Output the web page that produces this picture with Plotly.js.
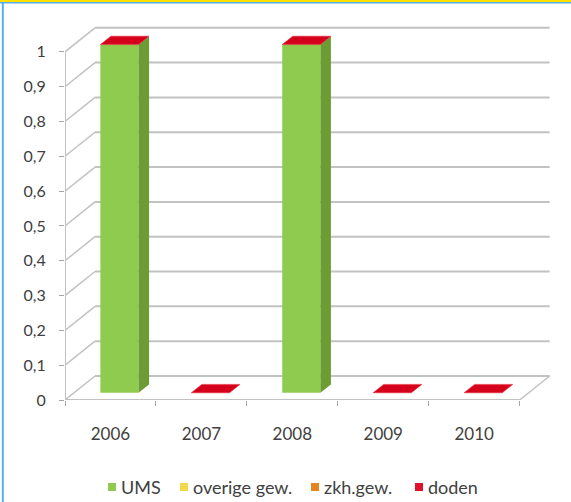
<!DOCTYPE html>
<html>
<head>
<meta charset="utf-8">
<script src="https://cdn.plot.ly/plotly-3.0.1.min.js"></script>
<style>
  html, body { margin: 0; padding: 0; background: #ffffff; }
  #chart { width: 571px; height: 502px; }
</style>
</head>
<body>
<div id="chart"></div>
<script>
// Jaartallen en waarden per categorie (gestapelde kolommen)
const years = ['2006', '2007', '2008', '2009', '2010'];
const ums = [1, 0, 1, 0, 0];
const overigeGew = [0, 0, 0, 0, 0];
const zkhGew = [0, 0, 0, 0, 0];
const doden = [0, 0, 0, 0, 0];
const seriesNames = ['UMS', 'overige gew.', 'zkh.gew.', 'doden'];
const yTicks = [0, 0.1, 0.2, 0.3, 0.4, 0.5, 0.6, 0.7, 0.8, 0.9, 1];

// Kleuren: voorvlak, zijvlak, bovenvlak
const frontColors = ['#8fcb4e', '#f2d64b', '#e3861f', '#e0112a'];
const sideColors = ['#6c9c34', '#c9a820', '#b8680e', '#a80a1c'];
const topColors = ['#a8d870', '#f8e070', '#f0a040', '#d4001c'];

// Schijnbare diepte van het 3D-vlak (in aseenheden)
const DX = 0.33, DY = 0.069;
const F0 = 0.3, F1 = 0.65;   // voor- en achterkant van de kolommen
const W = 0.42;              // kolombreedte

const series = [ums, overigeGew, zkhGew, doden];
const xs = years.map((_, i) => i);

const traces = [];
const cum = xs.map(() => 0);
const bases = [];
series.forEach((vals, s) => {
  const b = cum.slice();
  bases.push(b);
  traces.push({
    type: 'bar',
    name: seriesNames[s],
    x: xs.map(i => i + F0 * DX),
    y: vals,
    base: b.map(v => v + F0 * DY),
    width: W,
    marker: { color: frontColors[s], line: { width: 0 } },
    showlegend: false,
    hoverinfo: 'skip'
  });
  vals.forEach((v, i) => { cum[i] += v; });
});

// Zijvlakken van elk segment
series.forEach((vals, s) => {
  const px = [], py = [];
  vals.forEach((v, i) => {
    if (v <= 0) return;
    const xr = i + F0 * DX + W / 2;
    const b0 = bases[s][i], b1 = b0 + v;
    px.push(xr, xr, xr + (F1 - F0) * DX, xr + (F1 - F0) * DX, xr, null);
    py.push(b0 + F0 * DY, b1 + F0 * DY, b1 + F1 * DY, b0 + F1 * DY, b0 + F0 * DY, null);
  });
  if (px.length) {
    traces.push({
      type: 'scatter', mode: 'lines', x: px, y: py, fill: 'toself',
      fillcolor: sideColors[s], line: { width: 0, color: sideColors[s] },
      showlegend: false, hoverinfo: 'skip'
    });
  }
});

// Bovenvlak van de stapel (bovenste reeks)
(function () {
  const s = series.length - 1;
  const px = [], py = [];
  xs.forEach(i => {
    const H = cum[i];
    const xl = i + F0 * DX - W / 2, xr = i + F0 * DX + W / 2;
    const ox = (F1 - F0) * DX;
    px.push(xl, xr, xr + ox, xl + ox, xl, null);
    py.push(H + F0 * DY, H + F0 * DY, H + F1 * DY, H + F1 * DY, H + F0 * DY, null);
  });
  traces.push({
    type: 'scatter', mode: 'lines', x: px, y: py, fill: 'toself',
    fillcolor: topColors[s], line: { width: 0.6, color: '#e8303c' },
    showlegend: false, hoverinfo: 'skip'
  });
})();

// Achterwand: rasterlijnen en schuine verbindingen
const grid = '#c2c2c2';
const shapes = [];
const xFront0 = -0.5, xFront1 = years.length - 0.5;
yTicks.forEach(v => {
  shapes.push({ type: 'line', layer: 'below', x0: xFront0 + DX, x1: xFront1 + DX, y0: v + DY, y1: v + DY,
    line: { color: grid, width: 2 } });
  shapes.push({ type: 'line', layer: 'below', x0: xFront0, x1: xFront0 + DX, y0: v, y1: v + DY,
    line: { color: grid, width: 1.5 } });
});
// Vloer: voorrand, rechterzijde, linker as
shapes.push({ type: 'line', layer: 'below', x0: xFront0, x1: xFront1, y0: 0, y1: 0, line: { color: grid, width: 2 } });
shapes.push({ type: 'line', layer: 'below', x0: xFront1, x1: xFront1 + DX, y0: 0, y1: DY, line: { color: grid, width: 1.5 } });
shapes.push({ type: 'line', layer: 'below', x0: xFront0, x1: xFront0, y0: 0, y1: yTicks[yTicks.length - 1], line: { color: grid, width: 2 } });

// Omrekening van paginapixels naar papiercoördinaten
const L = 65, R = 15, T = 17, B = 102, PW = 491, PH = 383;
const xp = p => (p - L) / PW;
const yp = p => (T + PH - p) / PH;

// Kader van het blad (links blauw, boven geel met blauw)
shapes.push(
  { type: 'line', xref: 'paper', yref: 'paper', x0: xp(2.8), x1: xp(2.8), y0: yp(502), y1: yp(0),
    line: { color: '#5aaee6', width: 2 } },
  { type: 'line', xref: 'paper', yref: 'paper', x0: xp(0), x1: xp(571), y0: yp(2.8), y1: yp(2.8),
    line: { color: '#5aaee6', width: 1.5 } },
  { type: 'line', xref: 'paper', yref: 'paper', x0: xp(0), x1: xp(571), y0: yp(1), y1: yp(1),
    line: { color: '#ffe000', width: 2 } }
);

// Legenda onder de grafiek
const legendX = [108, 180, 311, 415];
const legendY = 487;
const annotations = [];
seriesNames.forEach((name, s) => {
  shapes.push({ type: 'rect', xref: 'paper', yref: 'paper',
    x0: xp(legendX[s]), x1: xp(legendX[s] + 8), y0: yp(legendY - 4), y1: yp(legendY + 4),
    fillcolor: frontColors[s], line: { width: 0 } });
  annotations.push({ xref: 'paper', yref: 'paper', x: xp(legendX[s] + 11), y: yp(legendY),
    xanchor: 'left', yanchor: 'middle', showarrow: false, text: name,
    font: { size: 18, color: '#404040' } });
});

const layout = {
  width: 571, height: 502,
  paper_bgcolor: '#ffffff', plot_bgcolor: 'rgba(0,0,0,0)',
  margin: { l: L, r: R, t: T, b: B },
  separators: ', ',
  barmode: 'overlay',
  showlegend: false,
  font: { family: 'Lato, "Open Sans", sans-serif', color: '#404040', size: 15 },
  xaxis: {
    range: [-0.5, 4.9], showgrid: false, zeroline: false, showline: false,
    tickmode: 'array', tickvals: xs, ticktext: years, ticks: '',
    ticklabelstandoff: 22,
    tickfont: { size: 17, color: '#404040' },
    minor: { tickmode: 'array', tickvals: xs.concat([years.length]).map(i => i - 0.5),
      ticks: 'outside', ticklen: 5, tickcolor: '#a6a6a6', showgrid: false },
    fixedrange: true
  },
  yaxis: {
    range: [0, 1.1], showgrid: false, zeroline: false, showline: false,
    tickmode: 'array', tickvals: yTicks, ticks: 'outside', ticklen: 5, tickcolor: '#a6a6a6',
    tickformat: '.1~f', ticklabelstandoff: 10,
    tickfont: { size: 16, color: '#404040' }, fixedrange: true
  },
  shapes: shapes,
  annotations: annotations
};

Plotly.newPlot('chart', traces, layout, { displayModeBar: false, staticPlot: true });
</script>
</body>
</html>
